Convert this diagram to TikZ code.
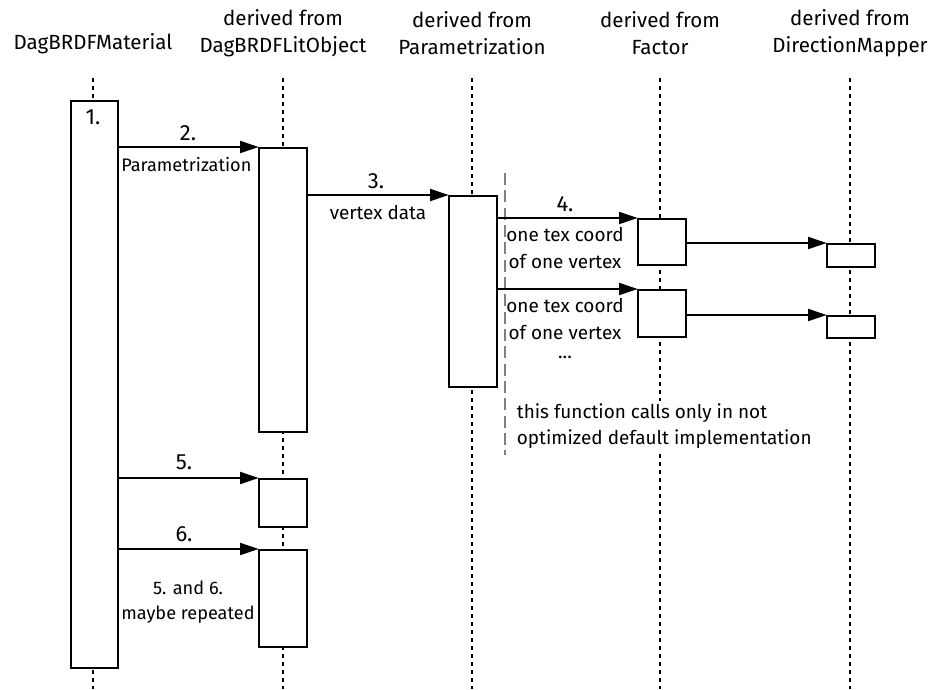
\documentclass[tikz,border=0pt]{standalone}
\usepackage{fontspec}
\setmainfont{Fira Sans}
\usetikzlibrary{arrows.meta}
\begin{document}
\begin{tikzpicture}[x=0.75pt,y=-0.75pt,
  hdr/.style={font=\fontsize{15.4}{20.5}\selectfont, align=center, inner sep=0pt},
  num/.style={font=\fontsize{16.5}{20}\selectfont, inner sep=0pt},
  lbl/.style={font=\fontsize{14.2}{20}\selectfont, align=center, inner sep=0pt},
  small/.style={font=\fontsize{13.6}{19}\selectfont, align=center, inner sep=0pt},
  life/.style={line width=1.5pt, dash pattern=on 3pt off 3pt},
  act/.style={draw, line width=1.5pt, fill=white, inner sep=0pt, anchor=north west},
  msg/.style={line width=1.5pt, -{Triangle[length=14pt,width=9pt]}, shorten >=-0.5pt},
  note/.style={gray, line width=0.8pt, dash pattern=on 9pt off 4pt}]
\useasboundingbox (0,0) rectangle (931,689);
% headers
\node[hdr] (h1) at (93,44) {DagBRDFMaterial};
\node[hdr] (h2) at (283,33) {derived from\\DagBRDFLitObject};
\node[hdr] (h3) at (472,33) {derived from\\Parametrization};
\node[hdr] (h4) at (660,33) {derived from\\Factor};
\node[hdr] (h5) at (850,33) {derived from\\DirectionMapper};
% lifelines
\coordinate (l1t) at (93,78); \coordinate (l1b) at (93,689);
\coordinate (l2t) at (283,78); \coordinate (l2b) at (283,689);
\coordinate (l3t) at (472,78); \coordinate (l3b) at (472,689);
\coordinate (l4t) at (660,78); \coordinate (l4b) at (660,689);
\coordinate (l5t) at (850,78); \coordinate (l5b) at (850,689);
\draw[life] (l1t) -- (l1b);
\draw[life] (l2t) -- (l2b);
\draw[life] (l3t) -- (l3b);
\draw[life] (l4t) -- (l4b);
\draw[life] (l5t) -- (l5b);
% gray note line
\coordinate (gt) at (505,173); \coordinate (gb) at (505,455);
\draw[note] (gt) -- (gb);
% activation boxes
\node[act, minimum width=35.25pt, minimum height=425.25pt] (a1) at (70,100) {};
\node[act, minimum width=36pt, minimum height=213pt] (b1) at (258,147) {};
\node[act, minimum width=36pt, minimum height=36pt] (b2) at (258,478) {};
\node[act, minimum width=36pt, minimum height=73pt] (b3) at (258,549) {};
\node[act, minimum width=36pt, minimum height=143pt] (c1) at (448,195) {};
\node[act, minimum width=36pt, minimum height=34.5pt] (f1) at (637,218) {};
\node[act, minimum width=36pt, minimum height=35pt] (f2) at (637,289) {};
\node[act, minimum width=36pt, minimum height=17pt] (d1) at (826,243) {};
\node[act, minimum width=36pt, minimum height=16.5pt] (d2) at (826,315) {};
% messages
\draw[msg] (a1.east |- b1.north west) -- (b1.north west);
\draw[msg] (b1.east |- c1.north west) -- (c1.north west);
\draw[msg] (c1.east |- f1.north west) -- (f1.north west);
\draw[msg] (c1.east |- f2.north west) -- (f2.north west);
\draw[msg] (f1.east |- d1.north west) -- (d1.north west);
\draw[msg] (f2.east |- d2.north west) -- (d2.north west);
\draw[msg] (a1.east |- b2.north west) -- (b2.north west);
\draw[msg] (a1.east |- b3.north west) -- (b3.north west);
% labels
\node[num] (t1) at (93,117) {1.};
\node[num] (t2) at (188,133) {2.};
\node[small, anchor=west] (t2b) at (121,165) {Parametrization};
\node[num] (t3) at (376,181) {3.};
\node[lbl] (t3b) at (378,213) {vertex data};
\node[num] (t4) at (565,204) {4.};
\node[lbl] (t4b) at (565,248) {one tex coord\\of one vertex};
\node[lbl] (t4c) at (565,319) {one tex coord\\of one vertex};
\node[lbl] (t4d) at (565,357) {...};
\node[lbl, align=left, anchor=west, fill=white, inner sep=2pt] (tn) at (514,426) {this function calls only in not\\optimized default implementation};
\node[num] (t5) at (184,462) {5.};
\node[num] (t6) at (184,534) {6.};
\node[small] (t56) at (188,602) {5. and 6.\\maybe repeated};
\end{tikzpicture}
\end{document}
